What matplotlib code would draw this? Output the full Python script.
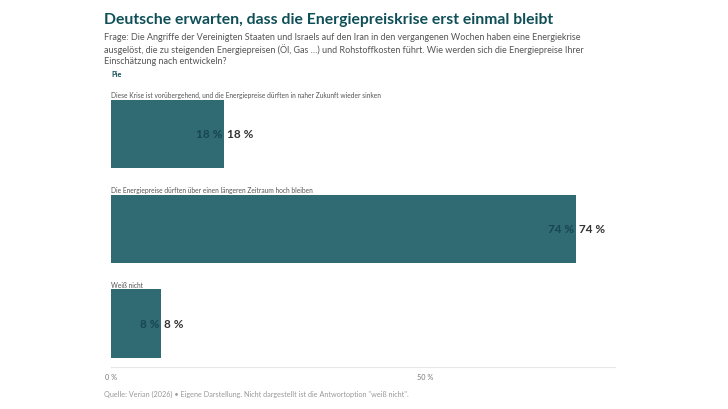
import matplotlib
matplotlib.use("Agg")
import matplotlib.pyplot as plt

# Daten
kategorien = [
    "Diese Krise ist vorübergehend, und die Energiepreise dürften in naher Zukunft wieder sinken",
    "Die Energiepreise dürften über einen längeren Zeitraum hoch bleiben",
    "Weiß nicht",
]
werte = [18, 74, 8]
ticks = [0, 50]
tick_labels = ["0 %", "50 %"]

plt.rcParams['font.family'] = ['Lato', 'DejaVu Sans']

farbe_balken = "#306a72"
farbe_titel = "#0f4f57"

fig = plt.figure(figsize=(7.28, 4.10), dpi=100)

# Achse in Pixeln: x 111..615, y 90..368
W, H = 728, 410
ax = fig.add_axes([111 / W, 1 - 368 / H, (615 - 111) / W, (368 - 90) / H])

pos = list(range(len(werte)))
ax.barh(pos, werte, height=0.72, color=farbe_balken)
ax.set_xlim(0, 80.25)
ax.set_ylim(2 + 43.5 / 95, -45 / 95)

for i, (kat, w) in enumerate(zip(kategorien, werte)):
    ax.text(0, i - 0.38, kat, fontsize=4.75, color="#555555", ha="left", va="bottom")
    ax.text(w - 0.3, i, f"{w} %", fontsize=8.5, fontweight="bold", color="#174650",
            ha="right", va="center")
    ax.text(w + 0.5, i, f"{w} %", fontsize=8.5, fontweight="bold", color="#333333",
            ha="left", va="center")

for s in ["top", "right", "left"]:
    ax.spines[s].set_visible(False)
ax.spines["bottom"].set_color("#e6e6e6")
ax.spines["bottom"].set_linewidth(0.8)
ax.set_yticks([])
ax.set_xticks(ticks)
ax.set_xticklabels(tick_labels, fontsize=5.2, color="#777777")
ax.tick_params(axis="x", length=0, pad=4)

# Titel und Texte
fig.text(104 / W, 1 - 20 / H, "Deutsche erwarten, dass die Energiepreiskrise erst einmal bleibt",
         fontsize=11.3, fontweight="bold", color=farbe_titel, ha="left", va="center")
fig.text(104 / W, 1 - 33 / H,
         "Frage: Die Angriffe der Vereinigten Staaten und Israels auf den Iran in den vergangenen Wochen haben eine Energiekrise\n"
         "ausgelöst, die zu steigenden Energiepreisen (Öl, Gas …) und Rohstoffkosten führt. Wie werden sich die Energiepreise Ihrer\n"
         "Einschätzung nach entwickeln?",
         fontsize=6.5, color="#555555", ha="left", va="top", linespacing=1.25)
fig.text(111 / W, 1 - 75 / H, "Pie", fontsize=5.3, fontweight="bold", color=farbe_titel,
         ha="left", va="center")
fig.text(104 / W, 1 - 394 / H,
         "Quelle: Verian (2026) • Eigene Darstellung. Nicht dargestellt ist die Antwortoption \"weiß nicht\".",
         fontsize=5.2, color="#999999", ha="left", va="center")

fig.savefig("out.png", dpi=100, facecolor="white")
